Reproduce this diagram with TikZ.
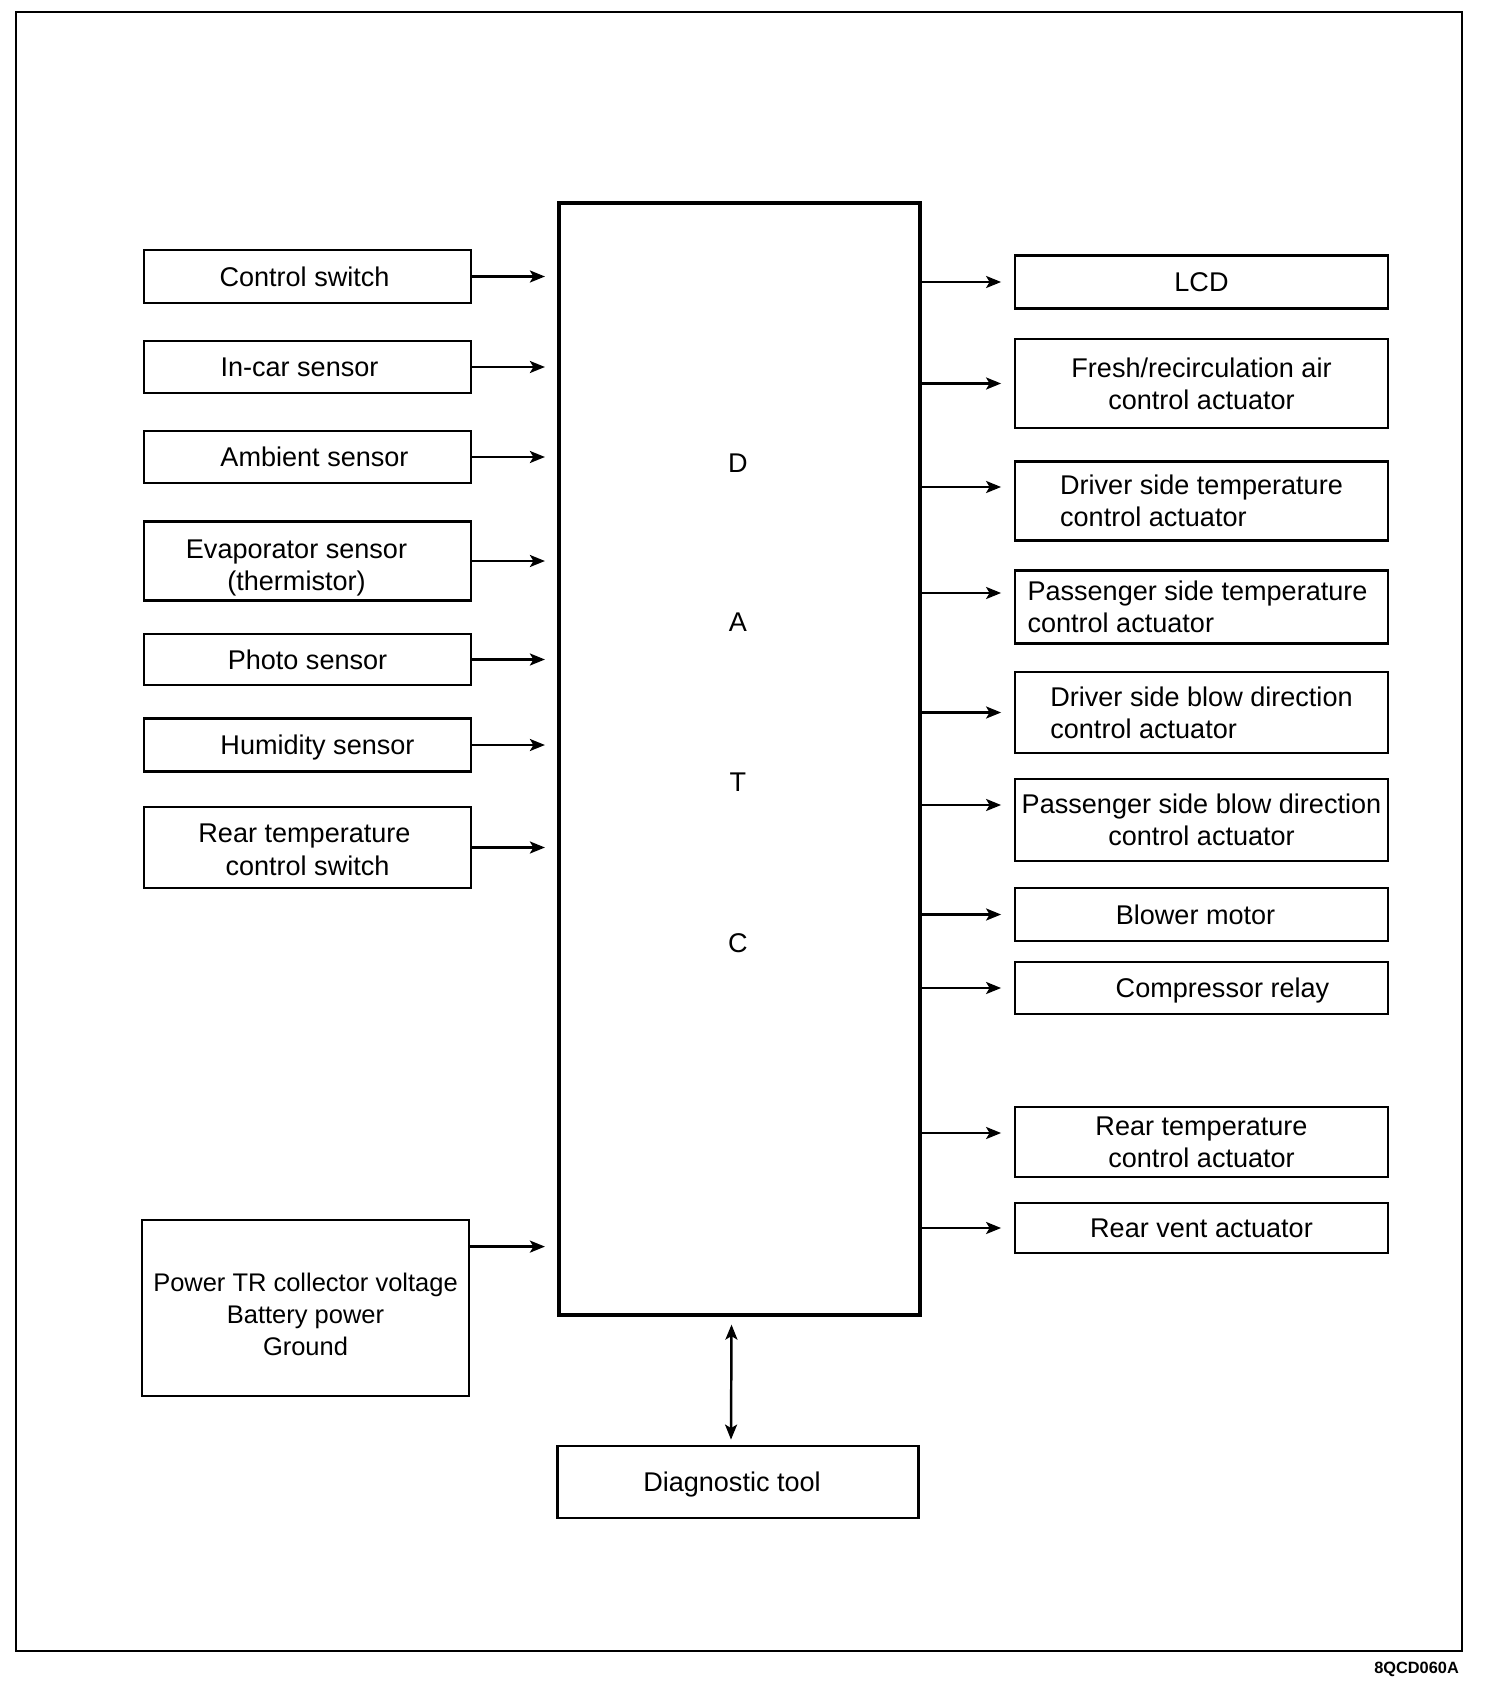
\documentclass[tikz,border=0pt]{standalone}
\usepackage{fontspec}
\setmainfont{Liberation Sans}
\usetikzlibrary{arrows.meta, calc}

\begin{document}
\begin{tikzpicture}[
        x=0.2mm, y=-0.2mm,
        font=\fontsize{15.4}{18.3}\selectfont,
        inbox/.style={rectangle, draw=black, line width=1.6pt, minimum width=6.54cm, inner sep=2pt, align=center},
        outbox/.style={rectangle, draw=black, line width=1.6pt, minimum width=7.46cm, inner sep=2pt, align=center},
        oneline/.style={text height=11pt, text depth=0pt},
        nudge/.style={execute at begin node={\hspace*{#1}}},
        arrow/.style={-{Stealth[length=0.3cm, width=0.24cm, inset=0.07cm]}, line width=1.4pt, shorten >=0.25cm}
    ]

    \useasboundingbox (0,0) rectangle (1504,1684);

    % Frame
    \draw[line width=1.1pt] (16,12) rectangle (1462,1651);
    \node[anchor=base east, font=\bfseries\fontsize{9.3}{11}\selectfont] (code) at (1465,1673) {8QCD060A};

    % Controller
    \node[rectangle, draw=black, line width=1.8pt, minimum width=7.22cm, minimum height=22.24cm] (datc) at (739.5,759) {};
    \foreach \ch/\yy in {D/463, A/622, T/782, C/943}
        \node[oneline] (let\ch) at (738,\yy) {\ch};

    % Inputs
    \node[inbox, oneline, nudge=-0.12cm, minimum height=1.06cm] (ctrl) at (307.5,276.5) {Control switch};
    \node[inbox, oneline, nudge=-0.32cm, minimum height=1.04cm] (incar) at (307.5,367) {In-car sensor};
    \node[inbox, oneline, nudge=0.28cm, minimum height=1.04cm] (amb) at (307.5,457) {Ambient sensor};
    \node[inbox, text height=36.6pt, minimum height=1.58cm] (evap) at (307.5,561) {\hspace*{-0.44cm}Evaporator sensor\\\hspace*{-0.44cm}(thermistor)};
    \node[inbox, oneline, minimum height=1.02cm] (photo) at (307.5,659.5) {Photo sensor};
    \node[inbox, oneline, nudge=0.4cm, minimum height=1.05cm] (humid) at (307.5,745) {Humidity sensor};
    \node[inbox, text height=31.6pt, minimum height=1.62cm] (rsw) at (307.5,847.5) {\hspace*{-0.12cm}Rear temperature\\control switch};
    \node[inbox, text height=54.5pt, minimum height=3.52cm, font=\fontsize{14.5}{18.3}\selectfont] (power) at (305.5,1308) {Power TR collector voltage\\Battery power\\Ground};

    % Outputs
    \node[outbox, oneline, minimum height=1.05cm] (lcd) at (1201.5,282) {LCD};
    \node[outbox, minimum height=1.78cm] (fresh) at (1201.5,383.5) {Fresh/recirculation air\\control actuator};
    \node[outbox, align=left, minimum height=1.57cm] (dtemp) at (1201.5,501) {Driver side temperature\\control actuator};
    \node[outbox, align=left, nudge=-0.16cm, minimum height=1.47cm] (ptemp) at (1201.5,607) {Passenger side temperature\\control actuator};
    \node[outbox, align=left, minimum height=1.62cm] (dblow) at (1201.5,712.5) {Driver side blow direction\\control actuator};
    \node[outbox, minimum height=1.64cm] (pblow) at (1201.5,820) {Passenger side blow direction\\control actuator};
    \node[outbox, oneline, nudge=-0.24cm, minimum height=1.06cm] (blower) at (1201.5,914.5) {Blower motor};
    \node[outbox, oneline, nudge=0.84cm, minimum height=1.04cm] (comp) at (1201.5,988) {Compressor relay};
    \node[outbox, minimum height=1.40cm] (rtemp) at (1201.5,1142) {Rear temperature\\control actuator};
    \node[outbox, oneline, minimum height=1.0cm] (rvent) at (1201.5,1228) {Rear vent actuator};

    \node[rectangle, draw=black, line width=1.6pt, oneline, nudge=-0.24cm, minimum width=7.22cm, minimum height=1.44cm] (diag) at (738,1482) {Diagnostic tool};

    % Arrows
    \foreach \src in {ctrl, incar, amb, evap, photo, humid, rsw}
        \draw[arrow] (\src.east) -- (datc.west |- \src.east);
    \coordinate (pwr) at ($(power.north east)+(0,28)$);
    \draw[arrow] (pwr) -- (datc.west |- pwr);

    \foreach \dst/\dy in {lcd/0, fresh/0, dtemp/-14, ptemp/-14, dblow/0, pblow/-15, blower/0, comp/0, rtemp/-9, rvent/0} {
        \coordinate (end) at ($(\dst.west)+(0,\dy)$);
        \draw[arrow] (datc.east |- end) -- (end);
    }

    \draw[{Stealth[length=0.3cm, width=0.24cm, inset=0.07cm]}-{Stealth[length=0.3cm, width=0.24cm, inset=0.07cm]}, line width=1.4pt]
        ($(datc.south)+(-8,8)$) -- ($(diag.north)+(-7,-5)$);

\end{tikzpicture}
\end{document}
